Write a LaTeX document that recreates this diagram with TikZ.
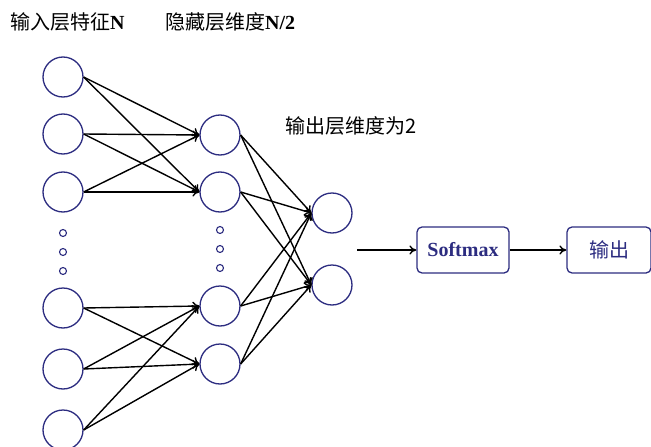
\documentclass[tikz,border=0pt]{standalone}
\usepackage{fontspec}
\setmainfont{Liberation Serif}
\newfontfamily\cjk{Noto Sans CJK SC}
\usetikzlibrary{arrows.meta}
\definecolor{navy}{RGB}{44,44,128}
\begin{document}
\begin{tikzpicture}[x=1pt,y=-1pt,
  neuron/.style={circle,draw=navy,line width=1.3pt,minimum size=40pt,inner sep=0pt},
  gapdot/.style={circle,draw=navy,line width=1.1pt,minimum size=7pt,inner sep=0pt},
  link/.style={-{To[length=7pt,width=9pt]},line width=1.4pt,black},
  stagebox/.style={draw=navy,line width=1.3pt,rounded corners=5pt,text=navy,minimum height=46pt,inner sep=0pt},
  lbl/.style={anchor=west,inner sep=0pt,font=\fontsize{20}{22}\selectfont}]
\useasboundingbox (0,0) rectangle (651,447);

% layer captions
\node[lbl] (capin)  at (10,22)  {{\cjk 输入层特征}\textbf{N}};
\node[lbl] (caphid) at (165,22) {{\cjk 隐藏层维度}\textbf{N/2}};
\node[lbl] (capout) at (285,126) {{\cjk 输出层维度为2}};

% input layer
\foreach \i/\y in {1/77,2/134,3/192,4/308,5/369,6/430}
  \node[neuron] (in\i) at (63,\y) {};
\foreach \k/\y in {1/233,2/252,3/271}
  \node[gapdot] (ind\k) at (63,\y) {};

% hidden layer
\foreach \i/\y in {1/135,2/192,3/306,4/364}
  \node[neuron] (h\i) at (220,\y) {};
\foreach \k/\y in {1/230,2/249,3/268}
  \node[gapdot] (hd\k) at (220,\y) {};

% output layer
\node[neuron] (o1) at (332,213) {};
\node[neuron] (o2) at (332,285) {};

% input -> hidden
\foreach \i in {1,2,3}
  \foreach \j in {1,2}
    \draw[link] (in\i.east) -- (h\j.west);
\foreach \i in {4,5,6}
  \foreach \j in {3,4}
    \draw[link] (in\i.east) -- (h\j.west);

% hidden -> output
\foreach \i in {1,2,3,4}
  \foreach \j in {1,2}
    \draw[link] (h\i.east) -- (o\j.west);

% softmax stage
\coordinate (sm) at (357,250);
\node[stagebox,minimum width=92pt,font=\fontsize{20}{22}\selectfont\bfseries] (soft) at (463,250) {Softmax};
\node[stagebox,minimum width=84pt,font=\fontsize{20}{22}\selectfont\cjk] (res) at (609,250) {输出};
\draw[link] (sm) -- (soft.west);
\draw[link] (soft.east) -- (res.west);
\end{tikzpicture}
\end{document}
